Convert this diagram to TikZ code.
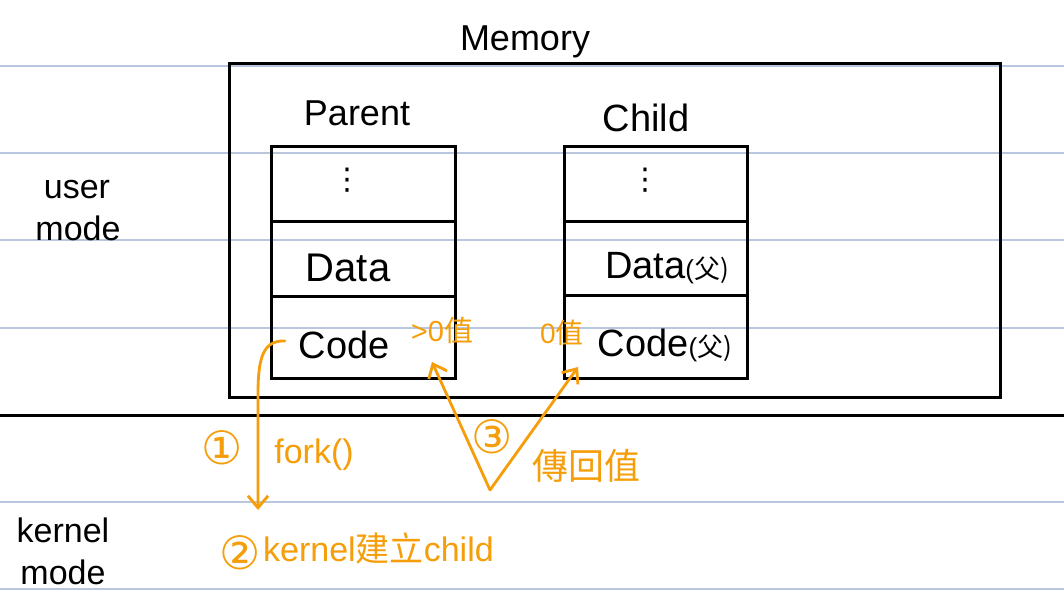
\documentclass[tikz,border=0pt]{standalone}
\usepackage{fontspec}
\setmainfont{Liberation Sans}
\newfontfamily\cjk{Noto Sans CJK TC}
\newfontfamily\dvs{DejaVu Sans}
\usetikzlibrary{arrows.meta}
\definecolor{rule}{RGB}{184,198,222}
\definecolor{note}{RGB}{245,158,10}
\tikzset{
  ruled/.style={rule, line width=1.5},
  box/.style={black, line width=3},
  hw/.style={inner sep=0pt, font=\fontsize{38}{44}\selectfont},
  hwside/.style={inner sep=0pt, font=\fontsize{34}{40}\selectfont},
  ornote/.style={inner sep=0pt, text=note, font=\fontsize{34}{40}\selectfont},
  circnum/.style={inner sep=0pt, text=note, font=\fontsize{46}{52}\selectfont\dvs},
  orline/.style={note, line width=2.8, line cap=round, line join=round},
  ortip/.style={-{Straight Barb[length=12pt,width=20pt,line width=2.8]}}
}
\begin{document}
\begin{tikzpicture}[x=1pt,y=-1pt]
\useasboundingbox[fill=white] (0,0) rectangle (1064,594);
% ruled lines
\foreach \yy in {66,153,240,328,502,589} \draw[ruled] (0,\yy) -- (1064,\yy);
\draw[box] (0,415) -- (1064,415);
% memory box
\draw[box] (229,63) rectangle (1000,397);
% parent
\draw[box] (271,146) rectangle (455,378);
\draw[box] (271,221) -- (455,221);
\draw[box] (271,296) -- (455,296);
% child
\draw[box] (564,146) rectangle (747,378);
\draw[box] (564,221) -- (747,221);
\draw[box] (564,295) -- (747,295);
% texts
\node[hw, font=\fontsize{36}{42}\selectfont] (mem) at (525,42) {Memory};
\node[hw, font=\fontsize{36}{42}\selectfont] (par) at (357,113) {Parent};
\node[hw] (chi) at (646,118) {Child};
\node[hw, font=\fontsize{30}{36}\selectfont\dvs] (pdots) at (347,180) {⋮};
\node[hw, font=\fontsize{30}{36}\selectfont\dvs] (cdots) at (645,180) {⋮};
\node[hw, font=\fontsize{40}{46}\selectfont] (pdata) at (348,268) {Data};
\node[hw] (cdata) at (667,268) {Data{\fontsize{26}{30}\selectfont(\cjk 父)}};
\node[hw] (pcode) at (344,345) {Code};
\node[hw] (ccode) at (665,345) {Code{\fontsize{26}{30}\selectfont(\cjk 父)}};
\node[hwside] (user) at (77,190) {user};
\node[hwside] (umode) at (78,228) {mode};
\node[hwside] (kern) at (63,530) {kernel};
\node[hwside] (kmode) at (63,572) {mode};
% orange notes
\node[ornote, font=\fontsize{29}{34}\selectfont] (gt0) at (442,330) {>0{\cjk 值}};
\node[ornote, font=\fontsize{28}{34}\selectfont] (eq0) at (562,333) {0{\cjk 值}};
\node[circnum] (c1) at (222,448) {①};
\node[ornote] (fork) at (314,455) {fork()};
\node[circnum] (c2) at (240,553) {②};
\node[ornote, anchor=west] (kc) at (263,548) {kernel{\cjk 建立}child};
\node[circnum] (c3) at (492,437) {③};
\node[ornote, font=\fontsize{36}{42}\selectfont\cjk] (ret) at (586,466) {傳回值};
% connectors
\coordinate (fstart) at (285,341);
\coordinate (fend) at (258,510);
\coordinate (vb) at (490,490);
\coordinate (tipa) at (432,362);
\coordinate (tipb) at (578,367);
\draw[orline, ortip] (fstart) .. controls (262,340) and (258,360) .. (258,395) -- (fend);
\draw[orline, ortip] (vb) -- (tipa);
\draw[orline, ortip] (vb) -- (tipb);
\end{tikzpicture}
\end{document}
